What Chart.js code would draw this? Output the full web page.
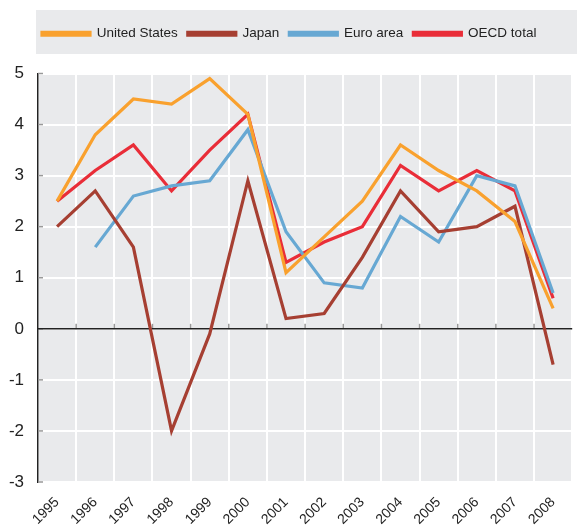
<!DOCTYPE html>
<html>
<head>
<meta charset="utf-8">
<script src="https://cdn.jsdelivr.net/npm/chart.js@4/dist/chart.umd.min.js"></script>
<style>
html,body{margin:0;padding:0;background:#fff;}
#wrap{width:577px;height:525px;}
</style>
</head>
<body>
<div id="wrap"><canvas id="c" width="577" height="525"></canvas></div>
<script>
const years = ['1995','1996','1997','1998','1999','2000','2001','2002','2003','2004','2005','2006','2007','2008'];
const unitedStates = [2.5, 3.8, 4.5, 4.4, 4.9, 4.2, 1.1, 1.8, 2.5, 3.6, 3.1, 2.7, 2.1, 0.4];
const japan        = [2.0, 2.7, 1.6, -2.0, -0.1, 2.9, 0.2, 0.3, 1.4, 2.7, 1.9, 2.0, 2.4, -0.7];
const euroArea     = [null, 1.6, 2.6, 2.8, 2.9, 3.9, 1.9, 0.9, 0.8, 2.2, 1.7, 3.0, 2.8, 0.7];
const oecdTotal    = [2.5, 3.1, 3.6, 2.7, 3.5, 4.2, 1.3, 1.7, 2.0, 3.2, 2.7, 3.1, 2.7, 0.6];
const yTicks = [-3, -2, -1, 0, 1, 2, 3, 4, 5];

const FONT = "'Liberation Sans', Arial, sans-serif";

const bgPlugin = {
  id: 'bg',
  beforeInit(chart) {
    const lg = chart.legend;
    if (lg) {
      const origFit = lg.fit;
      lg.fit = function () { origFit.call(this); this.height += 23; };
    }
  },
  afterLayout(chart) {
    if (chart.legend) { chart.legend.left = 32; }
  },
  beforeDraw(chart) {
    const ctx = chart.ctx, a = chart.chartArea;
    ctx.save();
    ctx.fillStyle = '#e9eaec';
    ctx.fillRect(36, 10, 577 - 36, 44);
    ctx.fillRect(a.left, a.top, a.right - a.left, a.bottom - a.top);
    ctx.restore();
  },
  beforeDatasetsDraw(chart) {
    const ctx = chart.ctx, x = chart.scales.x, y = chart.scales.y;
    const y0 = y.getPixelForValue(0);
    ctx.save();
    ctx.strokeStyle = '#999';
    ctx.lineWidth = 1.5;
    for (let i = 1; i < years.length; i++) {
      const px = (x.getPixelForValue(i - 1) + x.getPixelForValue(i)) / 2;
      ctx.beginPath(); ctx.moveTo(px, y0 - 5); ctx.lineTo(px, y0); ctx.stroke();
    }
    for (const v of yTicks) {
      const py = y.getPixelForValue(v);
      ctx.beginPath(); ctx.moveTo(x.left, py); ctx.lineTo(x.left + 5, py); ctx.stroke();
    }
    ctx.strokeStyle = '#222';
    ctx.lineWidth = 1.5;
    ctx.beginPath(); ctx.moveTo(x.left, y0); ctx.lineTo(x.right, y0); ctx.stroke();
    ctx.restore();
  }
};

function ds(label, data, color) {
  return { label, data, borderColor: color, backgroundColor: color, borderWidth: 3.2,
    pointRadius: 0, tension: 0, spanGaps: false, borderJoinStyle: 'miter', borderCapStyle: 'butt' };
}

new Chart(document.getElementById('c'), {
  type: 'line',
  data: {
    labels: years,
    datasets: [
      ds('United States', unitedStates, '#f9a12e'),
      ds('Japan', japan, '#a63f32'),
      ds('Euro area', euroArea, '#67a8d3'),
      ds('OECD total', oecdTotal, '#e92d38')
    ]
  },
  options: {
    responsive: false,
    devicePixelRatio: 1,
    animation: false,
    layout: { padding: { top: 17, right: 0, bottom: 0, left: 0 } },
    plugins: {
      tooltip: { enabled: false },
      legend: {
        position: 'top',
        align: 'start',
        labels: {
          boxWidth: 48, boxHeight: 3, padding: 10,
          color: '#222',
          font: { family: FONT, size: 13.5 }
        }
      }
    },
    scales: {
      x: {
        offset: true,
        grid: { offset: true, color: '#ffffff', lineWidth: 2, drawTicks: false },
        border: { display: false },
        afterFit(scale) { scale.height = 43; },
        ticks: { color: '#222', font: { family: FONT, size: 14 }, maxRotation: 45, minRotation: 45, padding: 12, autoSkip: false }
      },
      y: {
        min: -3, max: 5,
        grid: { color: '#ffffff', lineWidth: 2, drawTicks: false },
        border: { display: true, color: '#222', width: 1.5 },
        afterFit(scale) { scale.width = 38; },
        ticks: { stepSize: 1, color: '#222', font: { family: FONT, size: 17 }, padding: 14 }
      }
    }
  },
  plugins: [bgPlugin]
});
</script>
</body>
</html>
